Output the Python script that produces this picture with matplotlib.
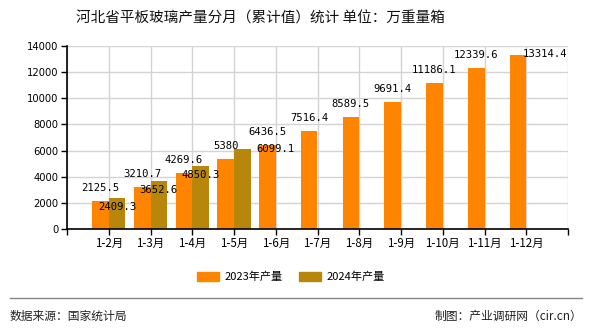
import numpy as np
import matplotlib.pyplot as plt
from matplotlib.patches import Patch
from matplotlib.lines import Line2D

plt.rcParams['font.family'] = ['Noto Sans CJK SC', 'DejaVu Sans']

months = ['1-2月', '1-3月', '1-4月', '1-5月', '1-6月', '1-7月',
          '1-8月', '1-9月', '1-10月', '1-11月', '1-12月']
prod_2023 = [2125.5, 3210.7, 4269.6, 5380, 6436.5, 7516.4,
             8589.5, 9691.4, 11186.1, 12339.6, 13314.4]
prod_2024 = [2409.3, 3652.6, 4850.3, 6099.1]
yticks = [0, 2000, 4000, 6000, 8000, 10000, 12000, 14000]

c23 = '#FF8400'
c24 = '#B8860B'

fig = plt.figure(figsize=(5.9, 3.3), dpi=100)
ax = fig.add_axes([67 / 590, 1 - 229 / 330, 501 / 590, 183 / 330])

x = np.arange(1, len(months) + 1)
x24 = np.arange(1, len(prod_2024) + 1)
w = 0.4
ax.bar(x - w / 2, prod_2023, w, color=c23, zorder=3)
ax.bar(x24 + w / 2, prod_2024, w, color=c24, zorder=3)

ax.set_xlim(0, 12)
ax.set_ylim(0, 14000)
ax.set_xticks(np.arange(0, 13))
ax.set_xticklabels([''] + months + [''], fontsize=8.3)
ax.set_yticks(yticks)
ax.set_yticklabels([str(v) for v in yticks], fontsize=7.2, family='DejaVu Sans')
ax.tick_params(axis='both', length=4, width=1, color='black', pad=2)
ax.grid(True, color='#d4d4d4', linewidth=1, zorder=0)
for s in ['top', 'right']:
    ax.spines[s].set_visible(False)
for s in ['left', 'bottom']:
    ax.spines[s].set_linewidth(1.2)
    ax.spines[s].set_zorder(4)

lbl = dict(ha='center', va='center', fontsize=7.6, family='DejaVu Sans Mono',
           textcoords='offset pixels', zorder=5)
# value labels; a couple are nudged sideways so they stay readable
off23 = {10: (27, 1)}
for i, v in enumerate(prod_2023):
    dx, dy = off23.get(i, (0, 13))
    ax.annotate(f'{v:g}', (x[i] - w / 2, v), xytext=(dx, dy), **lbl)
off24 = {3: (33, 0)}
for i, v in enumerate(prod_2024):
    dx, dy = off24.get(i, (0, -9))
    ax.annotate(f'{v:g}', (x24[i] + w / 2, v), xytext=(dx, dy), **lbl)

fig.text(0.441, 0.945, '河北省平板玻璃产量分月（累计值）统计 单位：万重量箱',
         ha='center', va='center', fontsize=10.5, color='#111111')

handles = [Patch(color=c23, label='2023年产量'), Patch(color=c24, label='2024年产量')]
fig.legend(handles=handles, loc='center', bbox_to_anchor=(0.493, 0.161), ncol=2,
           frameon=False, fontsize=8, handlelength=2.0, handleheight=0.8,
           handletextpad=0.5, columnspacing=1.5)

fig.add_artist(Line2D([10 / 590, 582 / 590], [1 - 298 / 330] * 2,
                      color='#888888', linewidth=1))
fig.text(10 / 590, 1 - 316 / 330, '数据来源：国家统计局', ha='left', va='center',
         fontsize=8.5, color='#222222')
fig.text(582 / 590, 1 - 316 / 330, '制图：产业调研网（cir.cn）', ha='right', va='center',
         fontsize=8.5, color='#222222')

fig.savefig('out.png', dpi=100)
